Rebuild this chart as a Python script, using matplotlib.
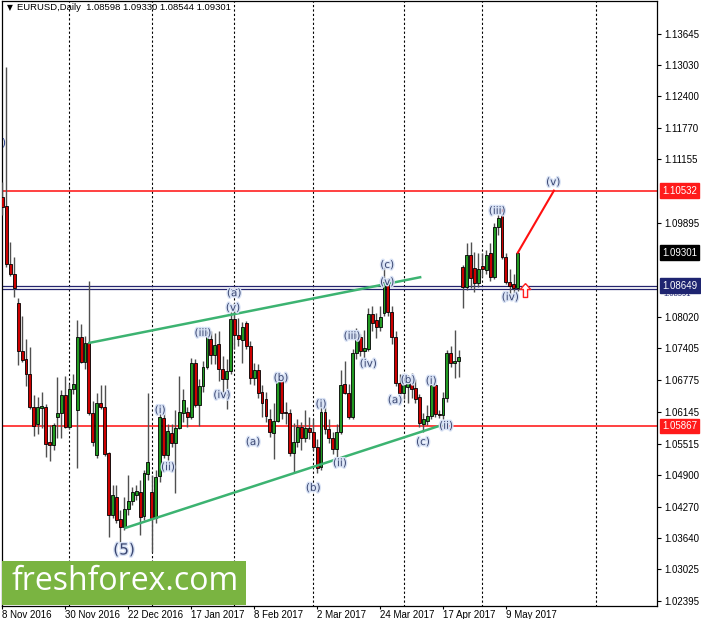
import matplotlib
matplotlib.use("Agg")
import matplotlib.pyplot as plt
import matplotlib.patheffects as pe
from matplotlib.patches import Rectangle
from matplotlib.path import Path
import numpy as np

# ---------------- data (EURUSD daily, 8 Nov 2016 .. 12 May 2017) ----------------
opens = [1.1040, 1.1022, 1.0908, 1.0888, 1.0831, 1.0735, 1.0720, 1.0690, 1.0625, 1.0591,
         1.0622, 1.0625, 1.0555, 1.0549, 1.0605, 1.0612, 1.0648, 1.0585, 1.0660, 1.0618,
         1.0763, 1.0714, 1.0752, 1.0613, 1.0529, 1.0633, 1.0625, 1.0533, 1.0410, 1.0445,
         1.0402, 1.0387, 1.0423, 1.0438, 1.0450, 1.0456, 1.0408, 1.0492, 1.0456, 1.0404,
         1.0487, 1.0603, 1.0530, 1.0573, 1.0553, 1.0583, 1.0612, 1.0615, 1.0605, 1.0712,
         1.0629, 1.0665, 1.0704, 1.0760, 1.0728, 1.0750, 1.0700, 1.0680, 1.0695, 1.0799,
         1.0767, 1.0757, 1.0790, 1.0746, 1.0682, 1.0697, 1.0655, 1.0640, 1.0600, 1.0573,
         1.0597, 1.0675, 1.0615, 1.0612, 1.0533, 1.0555, 1.0585, 1.0562, 1.0582, 1.0575,
         1.0546, 1.0506, 1.0615, 1.0580, 1.0563, 1.0541, 1.0575, 1.0670, 1.0653, 1.0605,
         1.0732, 1.0764, 1.0735, 1.0740, 1.0809, 1.0796, 1.0782, 1.0810, 1.0873, 1.0812,
         1.0764, 1.0672, 1.0652, 1.0664, 1.0673, 1.0662, 1.0644, 1.0590, 1.0597, 1.0607,
         1.0667, 1.0611, 1.0609, 1.0643, 1.0731, 1.0712, 1.0715, 1.0902, 1.0863, 1.0926,
         1.0899, 1.0870, 1.0903, 1.0896, 1.0930, 1.0882, 1.0982, 1.1019, 1.0922, 1.0873,
         1.0868, 1.08598]
highs = [1.1070, 1.1299, 1.0951, 1.0922, 1.0841, 1.0805, 1.0760, 1.0744, 1.0648, 1.0645,
         1.0655, 1.0630, 1.0588, 1.0592, 1.0684, 1.0658, 1.0685, 1.0670, 1.0690, 1.0797,
         1.0788, 1.0766, 1.0874, 1.0637, 1.0653, 1.0667, 1.0668, 1.0535, 1.0470, 1.0470,
         1.0420, 1.0445, 1.0490, 1.0465, 1.0470, 1.0479, 1.0500, 1.0652, 1.0490, 1.0500,
         1.0615, 1.0622, 1.0590, 1.0590, 1.0619, 1.0685, 1.0660, 1.0625, 1.0722, 1.0720,
         1.0680, 1.0715, 1.0775, 1.0774, 1.0772, 1.0774, 1.0726, 1.0720, 1.0813, 1.0830,
         1.0800, 1.0793, 1.0795, 1.0756, 1.0712, 1.0710, 1.0668, 1.0655, 1.0620, 1.0632,
         1.0679, 1.0680, 1.0635, 1.0620, 1.0593, 1.0600, 1.0595, 1.0618, 1.0605, 1.0600,
         1.0560, 1.0635, 1.0625, 1.0600, 1.0575, 1.0590, 1.0698, 1.0715, 1.0670, 1.0740,
         1.0780, 1.0770, 1.0776, 1.0820, 1.0825, 1.0810, 1.0825, 1.0906, 1.0880, 1.0825,
         1.0775, 1.0690, 1.0690, 1.0688, 1.0692, 1.0680, 1.0650, 1.0613, 1.0628, 1.0680,
         1.0678, 1.0618, 1.0655, 1.0738, 1.0745, 1.0777, 1.0737, 1.0906, 1.0949, 1.0952,
         1.0931, 1.0930, 1.0930, 1.0936, 1.0950, 1.0990, 1.1005, 1.1023, 1.0930, 1.0897,
         1.0887, 1.09330]
lows = [1.1005, 1.0902, 1.0884, 1.0843, 1.0708, 1.0714, 1.0665, 1.0620, 1.0567, 1.0570,
        1.0583, 1.0526, 1.0518, 1.0540, 1.0562, 1.0563, 1.0582, 1.0580, 1.0650, 1.0504,
        1.0712, 1.0700, 1.0608, 1.0548, 1.0524, 1.0620, 1.0527, 1.0367, 1.0405, 1.0395,
        1.0355, 1.0380, 1.0410, 1.0430, 1.0440, 1.0371, 1.0400, 1.0480, 1.0337, 1.0395,
        1.0475, 1.0524, 1.0520, 1.0545, 1.0454, 1.0580, 1.0595, 1.0585, 1.0600, 1.0625,
        1.0587, 1.0655, 1.0700, 1.0710, 1.0710, 1.0676, 1.0655, 1.0620, 1.0690, 1.0740,
        1.0745, 1.0712, 1.0740, 1.0670, 1.0667, 1.0643, 1.0605, 1.0595, 1.0565, 1.0521,
        1.0595, 1.0600, 1.0590, 1.0527, 1.0494, 1.0545, 1.0540, 1.0555, 1.0560, 1.0540,
        1.0494, 1.0500, 1.0570, 1.0553, 1.0532, 1.0524, 1.0570, 1.0650, 1.0600, 1.0600,
        1.0720, 1.0725, 1.0717, 1.0735, 1.0775, 1.0762, 1.0775, 1.0805, 1.0805, 1.0750,
        1.0665, 1.0633, 1.0640, 1.0633, 1.0643, 1.0633, 1.0585, 1.0575, 1.0588, 1.0600,
        1.0605, 1.0603, 1.0600, 1.0635, 1.0703, 1.0682, 1.0683, 1.0821, 1.0856, 1.0860,
        1.0852, 1.0862, 1.0882, 1.0888, 1.0875, 1.0878, 1.0965, 1.0918, 1.0869, 1.0837,
        1.0842, 1.08544]
closes = [1.1020, 1.0908, 1.0888, 1.0860, 1.0735, 1.0718, 1.0690, 1.0625, 1.0587, 1.0625,
          1.0627, 1.0551, 1.0549, 1.0589, 1.0612, 1.0648, 1.0585, 1.0660, 1.0670, 1.0763,
          1.0714, 1.0752, 1.0613, 1.0555, 1.0633, 1.0625, 1.0531, 1.0410, 1.0450, 1.0400,
          1.0387, 1.0423, 1.0438, 1.0455, 1.0458, 1.0407, 1.0493, 1.0516, 1.0404, 1.0486,
          1.0605, 1.0529, 1.0577, 1.0553, 1.0583, 1.0614, 1.0639, 1.0605, 1.0712, 1.0629,
          1.0665, 1.0704, 1.0763, 1.0728, 1.0748, 1.0700, 1.0680, 1.0695, 1.0799, 1.0767,
          1.0760, 1.0783, 1.0746, 1.0682, 1.0697, 1.0653, 1.0633, 1.0607, 1.0574, 1.0597,
          1.0675, 1.0612, 1.0612, 1.0533, 1.0555, 1.0585, 1.0562, 1.0582, 1.0575, 1.0546,
          1.0504, 1.0615, 1.0580, 1.0563, 1.0541, 1.0575, 1.0668, 1.0653, 1.0605, 1.0732,
          1.0764, 1.0736, 1.0742, 1.0809, 1.0790, 1.0782, 1.0802, 1.0873, 1.0812, 1.0764,
          1.0672, 1.0653, 1.0668, 1.0673, 1.0660, 1.0641, 1.0592, 1.0600, 1.0607, 1.0667,
          1.0611, 1.0609, 1.0643, 1.0731, 1.0712, 1.0715, 1.0724, 1.0863, 1.0926, 1.0880,
          1.0870, 1.0897, 1.0898, 1.0926, 1.0882, 1.0982, 1.0999, 1.0922, 1.0873, 1.0865,
          1.0861, 1.09301]

tick_idx = [0, 16, 32, 48, 64, 80, 96, 112, 128]
tick_labels = ["8 Nov 2016", "30 Nov 2016", "22 Dec 2016", "17 Jan 2017", "8 Feb 2017",
               "2 Mar 2017", "24 Mar 2017", "17 Apr 2017", "9 May 2017"]
month_grid_idx = [17, 38, 59, 79, 102, 122, 151]   # Dec 1, Jan 3, Feb 1, Mar 1, Apr 3, May 1, Jun 1

price_ticks = [1.13645, 1.13030, 1.12400, 1.11770, 1.11155, 1.09895, 1.08020, 1.07405,
               1.06775, 1.06145, 1.05515, 1.04900, 1.04270, 1.03640, 1.03025, 1.02395]

resistance = 1.10532
support = 1.05867
blue_levels = [1.08649, 1.08591]
last_price = 1.09301

upper_channel_x = [21.8, 106.5]
upper_channel_y = [1.0751, 1.0882]
lower_channel_x = [31.0, 111.9]
lower_channel_y = [1.0384, 1.0589]
target_x = [131, 140.2]
target_y = [1.09301, 1.10532]
arrow_x, arrow_y = 132.9, 1.0857

wave_text = ["(5)", "(a)", "(v)", "(iii)", "(iv)", "(i)", "(ii)", "(a)", "(b)", "(i)", "(ii)",
             "(b)", "(iii)", "(iv)", "(c)", "(v)", "(a)", "(b)", "(c)", "(i)", "(ii)",
             "(iii)", "(iv)", "(v)"]
wave_x = [30.9, 58.9, 58.6, 51.0, 55.8, 40.1, 42.1, 63.7, 70.8, 81.0, 85.8,
          79.0, 88.9, 93.0, 97.8, 97.8, 99.8, 103.1, 106.9, 109.0, 112.8,
          125.8, 129.1, 140.0]
wave_y = [1.0341, 1.0850, 1.0821, 1.0771, 1.0648, 1.0618, 1.0505, 1.0555, 1.0682, 1.0630, 1.0513,
          1.0464, 1.0765, 1.0710, 1.0906, 1.0872, 1.0638, 1.0678, 1.0555, 1.0676, 1.0587,
          1.1013, 1.0842, 1.1070]

# ---------------- figure ----------------
W, H = 701, 619
fig = plt.figure(figsize=(W / 100, H / 100), dpi=100)
fig.patch.set_facecolor("white")
ax = fig.add_axes([2 / W, 13 / H, 655 / W, 605 / H])
ax.set_xlim(-0.1, 166.4)
ax.set_ylim(1.02299, 1.14291)

FONT = "Liberation Sans"
GREEN = "#229A22"
RED = "#CC0000"

# month grid
ax.vlines(month_grid_idx, 1.0, 1.2, colors="black", linestyles=(0, (2, 2)), lw=0.8, zorder=1)

# horizontal levels
ax.axhline(resistance, color="#FF2020", lw=1.2, zorder=2)
ax.axhline(support, color="#FF2020", lw=1.2, zorder=2)
for lv in blue_levels:
    ax.axhline(lv, color="#24246E", lw=0.9, zorder=2)

# candles
o = np.array(opens); h = np.array(highs); l = np.array(lows); c = np.array(closes)
x = np.arange(len(o))
up = c >= o
ax.vlines(x, l, h, colors="#505050", lw=1.0, zorder=3)
ax.bar(x[up], (c - o)[up], bottom=o[up], width=0.74, color=GREEN, edgecolor="black",
       linewidth=0.6, zorder=4)
ax.bar(x[~up], (c - o)[~up], bottom=o[~up], width=0.74, color=RED, edgecolor="black",
       linewidth=0.6, zorder=4)

# channel and target lines
ax.plot(upper_channel_x, upper_channel_y, color="#3CB371", lw=1.8, zorder=5, solid_capstyle="butt")
ax.plot(lower_channel_x, lower_channel_y, color="#3CB371", lw=1.8, zorder=5, solid_capstyle="butt")
ax.plot(target_x, target_y, color="#FF1010", lw=1.5, zorder=5)

# buy arrow (outlined up arrow)
arrow_path = Path([(0, 1), (0.75, 0.15), (0.3, 0.15), (0.3, -1), (-0.3, -1), (-0.3, 0.15),
                   (-0.75, 0.15), (0, 1)])
ax.plot([arrow_x], [arrow_y], marker=arrow_path, ms=10, mfc="white", mec="#FF2020",
        mew=1.0, ls="none", zorder=6)

# wave labels
halo = [pe.withStroke(linewidth=2.0, foreground="#D8E2F5")]
for t, wx, wy in zip(wave_text, wave_x, wave_y):
    fs = 11 if t == "(5)" else 7.5
    ax.text(wx, wy, t, color="#3A4670", fontsize=fs, ha="center", va="center",
            family="DejaVu Sans", path_effects=halo, zorder=7)
ax.text(0.2, 1.1148, ")", color="#1F3A8A", fontsize=7.5, ha="center", va="center", zorder=7)

# axes styling
for s in ax.spines.values():
    s.set_color("black")
    s.set_linewidth(0.9)
ax.yaxis.tick_right()
ax.set_yticks(price_ticks)
ax.set_yticklabels([f"{p:.5f}" for p in price_ticks], fontsize=7, family=FONT)
ax.tick_params(axis="y", direction="out", length=3, width=0.8, pad=2)
ax.set_xticks(tick_idx)
ax.set_xticklabels(tick_labels, fontsize=7, family=FONT, ha="left")
ax.tick_params(axis="x", direction="out", length=2, width=0.8, pad=1)

# price boxes on the right
ytr = ax.get_yaxis_transform()
boxes = [(resistance, "#FF1A1A"), (last_price, "black"), (blue_levels[0], "#1E2470"),
         (support, "#FF1A1A")]
ax.text(1.0 + 6 / 655, blue_levels[1] - 0.00125, f"{blue_levels[1]:.5f}", transform=ytr,
        fontsize=5.5, family=FONT, color="#1E2470", ha="left", va="center", clip_on=False)
for val, col in boxes:
    ax.text(1.0 + 5 / 655, val, f"{val:.5f}", transform=ytr, fontsize=7, family=FONT,
            color="white", ha="left", va="center", clip_on=False, zorder=10,
            bbox=dict(boxstyle="square,pad=0.25", facecolor=col, edgecolor=col))

# header
fig.text(7 / W, 1 - 8 / H, "\u25bc", fontsize=5.5, family="DejaVu Sans", va="center", ha="left")
fig.text(17 / W, 1 - 8 / H, "EURUSD,Daily  1.08598 1.09330 1.08544 1.09301", fontsize=6.8,
         family=FONT, va="center", ha="left")

# watermark
fig.add_artist(Rectangle((2 / W, (H - 605) / H), 244 / W, 44 / H, transform=fig.transFigure,
                         facecolor="#7AB441", edgecolor="none", zorder=20))
fig.text(125 / W, 1 - 582 / H, "freshforex.com", color="white", fontsize=23, family="Open Sans",
         ha="center", va="center", zorder=21)

fig.savefig("out.png", dpi=100)
